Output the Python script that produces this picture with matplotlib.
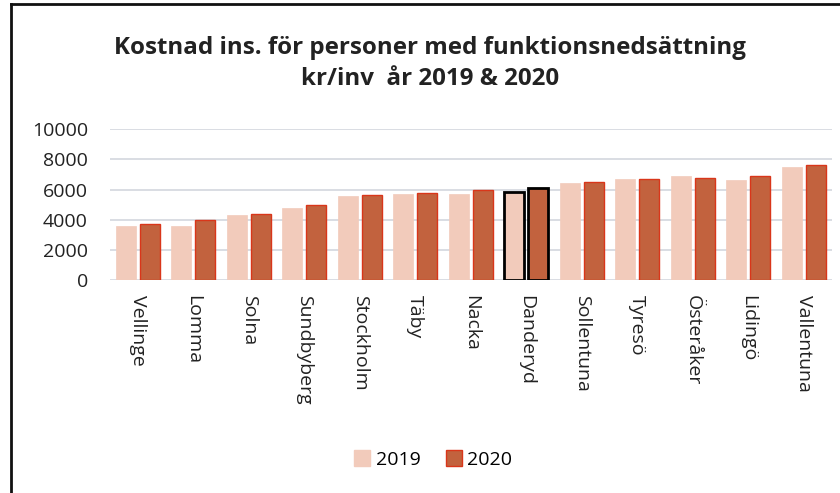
import matplotlib.pyplot as plt
import numpy as np
from matplotlib.lines import Line2D

kommuner = ['Vellinge', 'Lomma', 'Solna', 'Sundbyberg', 'Stockholm', 'Täby', 'Nacka',
            'Danderyd', 'Sollentuna', 'Tyresö', 'Österåker', 'Lidingö', 'Vallentuna']
kostnad_2019 = [3600, 3600, 4300, 4750, 5550, 5700, 5700, 5850, 6400, 6700, 6900, 6600, 7500]
kostnad_2020 = [3700, 3950, 4400, 4950, 5650, 5800, 5950, 6100, 6500, 6700, 6750, 6900, 7600]
highlight = 'Danderyd'
yticks = [0, 2000, 4000, 6000, 8000, 10000]

c2019 = '#F2CBBB'
c2020 = '#C2623E'
edge2020 = '#D9361A'

plt.rcParams['font.family'] = ['Open Sans', 'DejaVu Sans']

fig = plt.figure(figsize=(8.4, 4.93), dpi=100)
ax = fig.add_axes([0.131, 0.432, 0.859, 0.306])

x = np.arange(len(kommuner))
w = 0.36
off = 0.215
edges19 = ['black' if k == highlight else c2019 for k in kommuner]
edges20 = ['black' if k == highlight else edge2020 for k in kommuner]
lw19 = [2 if k == highlight else 0.5 for k in kommuner]
lw20 = [2 if k == highlight else 1 for k in kommuner]

ax.bar(x - off, kostnad_2019, w, color=c2019, edgecolor=edges19, linewidth=lw19, zorder=3, label='2019')
ax.bar(x + off, kostnad_2020, w, color=c2020, edgecolor=edges20, linewidth=lw20, zorder=3, label='2020')

ax.set_xlim(-0.5, len(kommuner) - 0.5)
ax.set_ylim(0, 10000)
ax.set_yticks(yticks)
ax.set_yticklabels([str(v) for v in yticks], fontsize=14, color='#222222')
ax.set_xticks(x)
ax.set_xticklabels(kommuner, rotation=270, fontsize=14, color='#222222')
ax.tick_params(axis='both', length=0)
ax.tick_params(axis='y', pad=16)
ax.tick_params(axis='x', pad=11)
ax.yaxis.grid(True, color='#D3D7DE', linewidth=1.2, zorder=0)
for s in ax.spines.values():
    s.set_visible(False)

fig.text(0.512, 0.903, 'Kostnad ins. för personer med funktionsnedsättning',
         ha='center', va='center', fontsize=17.4, fontweight='bold', color='#222222')
fig.text(0.512, 0.84, 'kr/inv  år 2019 & 2020',
         ha='center', va='center', fontsize=17.4, fontweight='bold', color='#222222')

handles = [Line2D([], [], marker='s', linestyle='', markersize=11, markerfacecolor=c2019,
                  markeredgecolor=c2019, label='2019'),
           Line2D([], [], marker='s', linestyle='', markersize=11, markerfacecolor=c2020,
                  markeredgecolor=edge2020, label='2020')]
fig.legend(handles=handles, loc='center', bbox_to_anchor=(0.515, 0.067), ncol=2, frameon=False,
           fontsize=14, handletextpad=0.2, columnspacing=1.2, handlelength=1)

# chart frame (left and top edge visible in the scan)
fig.add_artist(Line2D([0.013, 0.013], [0, 0.992], color='#111111', linewidth=2))
fig.add_artist(Line2D([0.013, 1.0], [0.992, 0.992], color='#111111', linewidth=2))

fig.savefig('out.png', dpi=100)
